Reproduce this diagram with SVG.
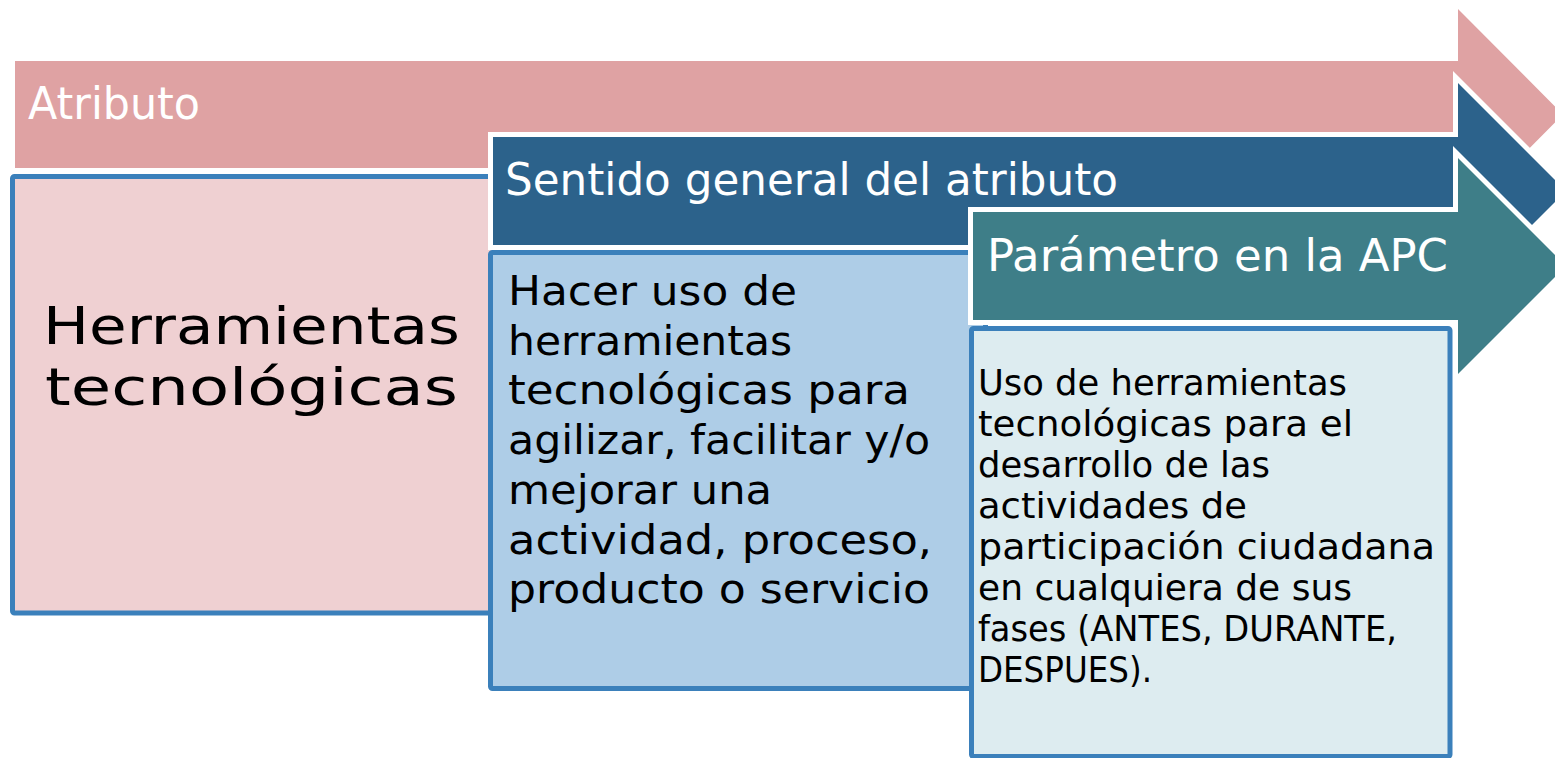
<svg xmlns="http://www.w3.org/2000/svg" width="1555" height="758" viewBox="0 0 1555 758">
<style>
.arrow{stroke:#FFFFFF;stroke-width:10;stroke-linejoin:miter;paint-order:stroke fill}
.box{stroke:#3B80BB;stroke-width:5}
.hdr{font-family:"DejaVu Sans",sans-serif;font-size:45px;fill:#FFFFFF}
.t1{font-family:"DejaVu Sans",sans-serif;font-size:52px;fill:#000000}
.t2{font-family:"DejaVu Sans",sans-serif;font-size:41px;fill:#000000}
.t3{font-family:"DejaVu Sans",sans-serif;font-size:36px;fill:#000000}
</style>
<rect width="1555" height="758" fill="#FFFFFF"/>
<g id="arrow-atributo">
<polygon class="arrow" fill="#DFA2A3" points="15,61 1458,61 1458,9 1563,114.5 1458,220 1458,168 15,168"/>
<text class="hdr" x="28" y="119" textLength="172" lengthAdjust="spacingAndGlyphs">Atributo</text>
</g>
<g id="box-atributo">
<rect class="box" x="12.5" y="176.5" width="490" height="436.5" rx="2" fill="#EFD0D2"/>
<text class="t1" x="43" y="344" textLength="417" lengthAdjust="spacingAndGlyphs">Herramientas</text>
<text class="t1" x="45" y="405" textLength="413" lengthAdjust="spacingAndGlyphs">tecnológicas</text>
</g>
<g id="arrow-sentido">
<polygon class="arrow" fill="#2C628B" points="493,137 1458,137 1458,83 1566,191 1458,299 1458,245 493,245"/>
<text class="hdr" x="505" y="195" textLength="613" lengthAdjust="spacingAndGlyphs">Sentido general del atributo</text>
</g>
<g id="box-sentido">
<rect class="box" x="490.5" y="252.5" width="495" height="436" rx="2" fill="#AECDE7"/>
<text class="t2" x="508" y="305" textLength="289" lengthAdjust="spacingAndGlyphs">Hacer uso de</text>
<text class="t2" x="508" y="355" textLength="284" lengthAdjust="spacingAndGlyphs">herramientas</text>
<text class="t2" x="508" y="404" textLength="402" lengthAdjust="spacingAndGlyphs">tecnológicas para</text>
<text class="t2" x="508" y="454" textLength="422" lengthAdjust="spacingAndGlyphs">agilizar, facilitar y/o</text>
<text class="t2" x="508" y="504" textLength="264" lengthAdjust="spacingAndGlyphs">mejorar una</text>
<text class="t2" x="508" y="554" textLength="424" lengthAdjust="spacingAndGlyphs">actividad, proceso,</text>
<text class="t2" x="508" y="603" textLength="422" lengthAdjust="spacingAndGlyphs">producto o servicio</text>
</g>
<g id="arrow-parametro">
<polygon class="arrow" fill="#3E7E88" points="973,212 1458,212 1458,158 1566,266 1458,374 1458,320 973,320"/>
<text class="hdr" x="987" y="271" textLength="461" lengthAdjust="spacingAndGlyphs">Parámetro en la APC</text>
</g>
<g id="box-parametro">
<rect class="box" x="971.5" y="328.5" width="478.5" height="428" rx="2" fill="#DDECF0"/>
<text class="t3" x="978" y="395" textLength="369" lengthAdjust="spacingAndGlyphs">Uso de herramientas</text>
<text class="t3" x="978" y="436" textLength="375" lengthAdjust="spacingAndGlyphs">tecnológicas para el</text>
<text class="t3" x="978" y="477" textLength="292" lengthAdjust="spacingAndGlyphs">desarrollo de las</text>
<text class="t3" x="978" y="518" textLength="269" lengthAdjust="spacingAndGlyphs">actividades de</text>
<text class="t3" x="978" y="559" textLength="457" lengthAdjust="spacingAndGlyphs">participación ciudadana</text>
<text class="t3" x="978" y="600" textLength="374" lengthAdjust="spacingAndGlyphs">en cualquiera de sus</text>
<text class="t3" x="978" y="641" textLength="419" lengthAdjust="spacingAndGlyphs">fases (ANTES, DURANTE,</text>
<text class="t3" x="978" y="682" textLength="174" lengthAdjust="spacingAndGlyphs">DESPUES).</text>
</g>
<g id="connectors"></g>
</svg>
